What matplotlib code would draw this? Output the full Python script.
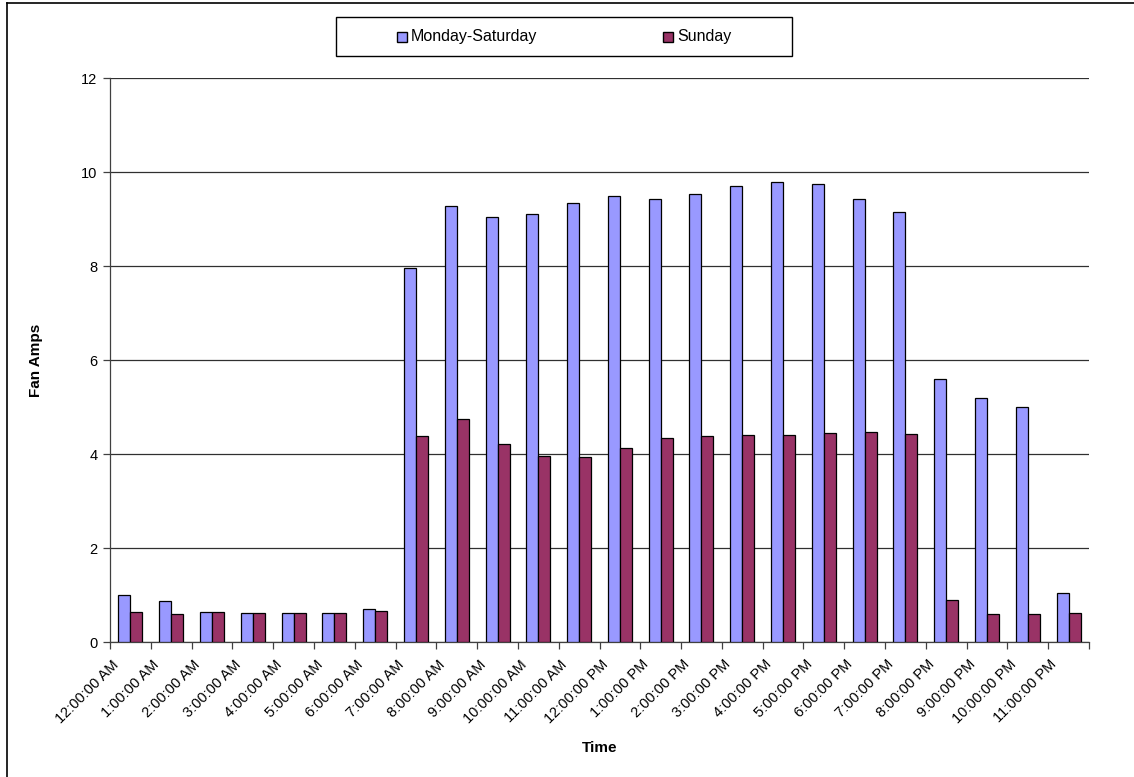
import matplotlib
matplotlib.use("Agg")
import matplotlib.pyplot as plt
import matplotlib.transforms as mtransforms
import numpy as np
from matplotlib.patches import Rectangle
from matplotlib.lines import Line2D

plt.rcParams['font.family'] = ['Liberation Sans', 'DejaVu Sans']

hours = ["12:00:00 AM", "1:00:00 AM", "2:00:00 AM", "3:00:00 AM", "4:00:00 AM",
         "5:00:00 AM", "6:00:00 AM", "7:00:00 AM", "8:00:00 AM", "9:00:00 AM",
         "10:00:00 AM", "11:00:00 AM", "12:00:00 PM", "1:00:00 PM", "2:00:00 PM",
         "3:00:00 PM", "4:00:00 PM", "5:00:00 PM", "6:00:00 PM", "7:00:00 PM",
         "8:00:00 PM", "9:00:00 PM", "10:00:00 PM", "11:00:00 PM"]
mon_sat = [1.01, 0.88, 0.63, 0.62, 0.62, 0.62, 0.71, 7.96, 9.28, 9.04, 9.11, 9.35,
           9.48, 9.43, 9.54, 9.70, 9.78, 9.74, 9.43, 9.14, 5.60, 5.19, 5.01, 1.04]
sunday = [0.63, 0.59, 0.63, 0.61, 0.62, 0.62, 0.65, 4.38, 4.75, 4.22, 3.96, 3.94,
          4.13, 4.35, 4.38, 4.40, 4.40, 4.45, 4.47, 4.43, 0.89, 0.60, 0.60, 0.62]
series_names = ["Monday-Saturday", "Sunday"]
series_colors = ["#9999FF", "#993366"]
y_ticks = [0, 2, 4, 6, 8, 10, 12]

W, H = 1134, 777
fig = plt.figure(figsize=(W / 100, H / 100), dpi=100)
fig.patch.set_facecolor("white")

# plot area in pixel coordinates
left, right, top, bottom = 110, 1089, 78, 642
ax = fig.add_axes([left / W, 1 - bottom / H, (right - left) / W, (bottom - top) / H])

x = np.arange(len(hours))
bw = 0.294
ax.bar(x - bw / 2, mon_sat, width=bw, color=series_colors[0], edgecolor="black",
       linewidth=0.9, zorder=3)
ax.bar(x + bw / 2, sunday, width=bw, color=series_colors[1], edgecolor="black",
       linewidth=0.9, zorder=3)

ax.set_xlim(-0.5, len(hours) - 0.5)
ax.set_ylim(0, 12)
ax.set_yticks(y_ticks)
ax.set_yticklabels([str(v) for v in y_ticks], fontsize=10.5)
ax.yaxis.grid(True, color="#303030", linewidth=0.9, zorder=0)
ax.set_axisbelow(True)

# category labels at centres, tick marks at category boundaries
ax.set_xticks(x)
ax.set_xticklabels(hours, rotation=45, ha="right", va="top", fontsize=10.5)
ax.tick_params(axis="x", which="major", length=0, pad=6)
shift = mtransforms.ScaledTranslation(-9 / 100, -7 / 100, fig.dpi_scale_trans)
for lbl in ax.get_xticklabels():
    lbl.set_transform(lbl.get_transform() + shift)
ax.set_xticks(np.arange(len(hours) + 1) - 0.5, minor=True)
ax.tick_params(axis="x", which="minor", length=5, width=0.9, color="#404040", direction="out")
ax.tick_params(axis="y", length=5, width=0.9, color="#404040", direction="out", pad=4)

for s in ["top", "right"]:
    ax.spines[s].set_visible(False)
for s in ["left", "bottom"]:
    ax.spines[s].set_color("#404040")
    ax.spines[s].set_linewidth(0.9)

fig.text(36 / W, 1 - 360 / H, "Fan Amps", rotation=90, ha="center", va="center",
         fontsize=11, fontweight="bold")
fig.text(600 / W, 1 - 748 / H, "Time", ha="center", va="center",
         fontsize=11, fontweight="bold")

# legend box
lx0, lx1, ly0, ly1 = 336, 792, 17, 56
fig.patches.append(Rectangle((lx0 / W, 1 - ly1 / H), (lx1 - lx0) / W, (ly1 - ly0) / H,
                             transform=fig.transFigure, facecolor="white",
                             edgecolor="black", linewidth=1.0))
for name, color, mx in zip(series_names, series_colors, [397, 663]):
    fig.patches.append(Rectangle((mx / W, 1 - 42 / H), 10 / W, 10 / H,
                                 transform=fig.transFigure, facecolor=color,
                                 edgecolor="black", linewidth=1.0))
    fig.text((mx + 14) / W, 1 - 37 / H, name, ha="left", va="center", fontsize=11.5)

# chart-area border (left and top edges)
fig.add_artist(Line2D([7 / W, 7 / W], [0, 1 - 3 / H], transform=fig.transFigure,
                      color="black", linewidth=1.2))
fig.add_artist(Line2D([7 / W, 1], [1 - 3 / H, 1 - 3 / H], transform=fig.transFigure,
                      color="black", linewidth=1.2))

fig.savefig("out.png", dpi=100)
